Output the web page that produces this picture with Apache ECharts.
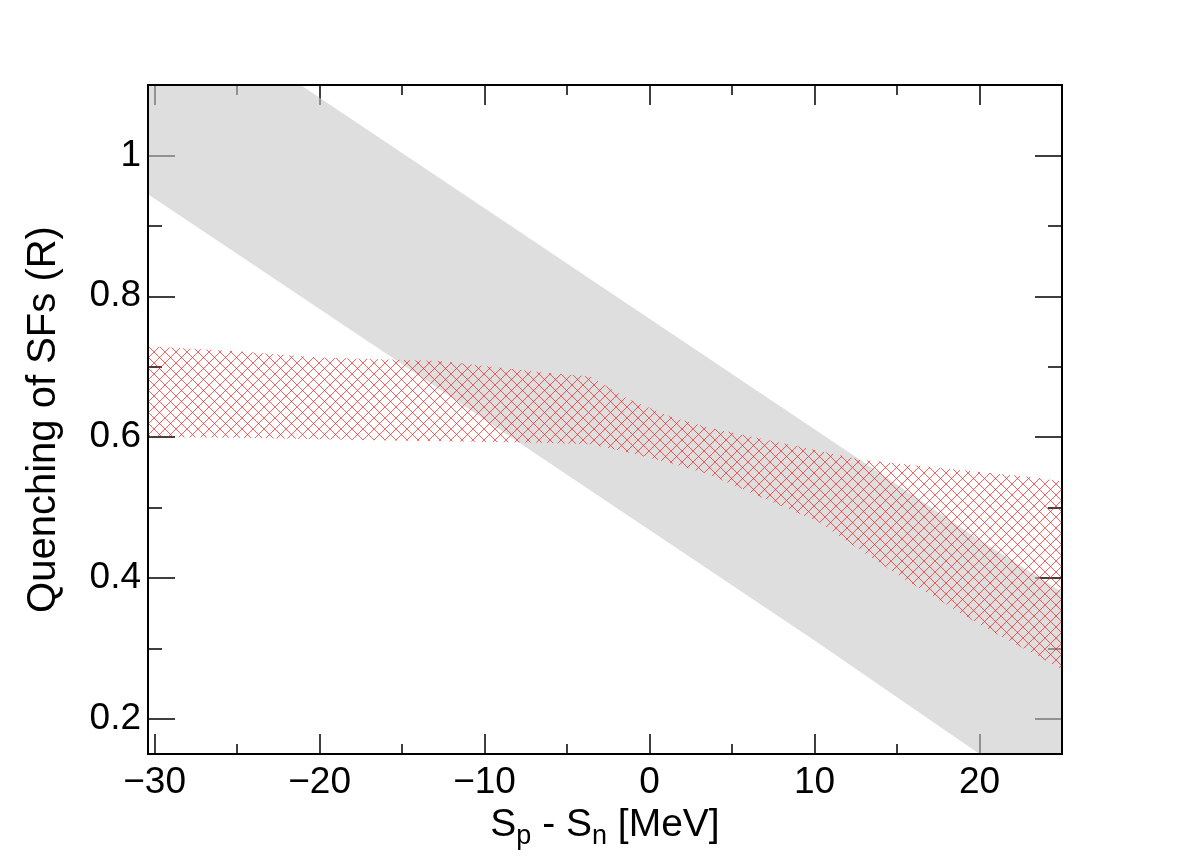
<!DOCTYPE html>
<html>
<head>
<meta charset="utf-8">
<script src="https://cdn.jsdelivr.net/npm/echarts@6/dist/echarts.min.js"></script>
<style>
  html, body { margin: 0; padding: 0; background: #fff; }
  #chart { width: 1182px; height: 863px; }
</style>
</head>
<body>
<div id="chart"></div>
<script>
// gray band (lower / upper edge)
var grayX = [-30.4, -20, -10, 0, 10, 20, 25]
var grayLow = [0.945, 0.782, 0.625, 0.468, 0.311, 0.150, 0.073]
var grayHigh = [1.245, 1.082, 0.925, 0.768, 0.611, 0.454, 0.380]

// red hatched band
var redX = [-30.4, -25, -20, -12.7, -6.6, -3.6, -1.3, 1.3, 3.5, 7.5, 10.2, 12.8, 15.2, 20.2, 23.3, 25]
var redLow = [0.600, 0.599, 0.597, 0.594, 0.592, 0.590, 0.578, 0.563, 0.548, 0.507, 0.480, 0.439, 0.402, 0.331, 0.292, 0.270]
var redHigh = [0.729, 0.722, 0.713, 0.708, 0.692, 0.686, 0.654, 0.629, 0.614, 0.594, 0.581, 0.568, 0.562, 0.550, 0.543, 0.537]

var xMajor = [-30, -20, -10, 0, 10, 20]
var xMinor = [-25, -15, -5, 5, 15]
var yMajor = [0.2, 0.4, 0.6, 0.8, 1]
var yMinor = [0.3, 0.5, 0.7, 0.9]

var FONT = "'Liberation Sans', Arial, Helvetica, sans-serif"

function hatchPattern() {
  var s = 11
  var c = document.createElement('canvas')
  c.width = s
  c.height = s
  var g = c.getContext('2d')
  g.strokeStyle = 'rgba(255,30,30,0.7)'
  g.lineWidth = 1
  g.beginPath()
  g.moveTo(-1, -1); g.lineTo(s + 1, s + 1)
  g.moveTo(s + 1, -1); g.lineTo(-1, s + 1)
  g.stroke()
  return c
}

// one filled polygon per band: upper edge left->right, lower edge right->left
function band(name, xs, lo, hi, fill) {
  return {
    name: name,
    type: 'custom',
    clip: true,
    silent: true,
    encode: { x: 0, y: [1, 2] },
    data: xs.map(function(x, i) { return [x, lo[i], hi[i]] }),
    renderItem: function(params, api) {
      if (params.dataIndex !== 0) return null
      var pts = []
      for (var i = 0; i < xs.length; i++) pts.push(api.coord([xs[i], hi[i]]))
      for (var j = xs.length - 1; j >= 0; j--) pts.push(api.coord([xs[j], lo[j]]))
      var cs = params.coordSys
      return {
        type: 'polygon',
        shape: { points: pts },
        style: { fill: fill, stroke: null },
        clipPath: { type: 'rect', shape: { x: cs.x, y: cs.y, width: cs.width, height: cs.height } }
      }
    }
  }
}

function fmtX(v) {
  return v < 0 ? '\u2212' + Math.abs(v) : String(v)
}

function xAx(pos, ticks, len, label) {
  var ax = {
    type: 'value',
    position: pos,
    min: -30.4,
    max: 25,
    axisLine: { show: false, onZero: false },
    splitLine: { show: false },
    axisTick: { show: true, inside: true, length: len, customValues: ticks, lineStyle: { color: '#000', width: 1.5 } },
    axisLabel: { show: false }
  }
  if (label) {
    ax.axisLabel = { show: true, customValues: xMajor, formatter: fmtX, margin: 10, fontSize: 37, color: '#000', fontFamily: FONT }
    ax.name = '{t|S}{s|p}{t| - S}{s|n}{t| [MeV]}'
    ax.nameLocation = 'middle'
    ax.nameGap = 47
    ax.nameTextStyle = {
      color: '#000',
      fontFamily: FONT,
      rich: {
        t: { fontSize: 39, fontFamily: FONT, color: '#000' },
        s: { fontSize: 27, fontFamily: FONT, color: '#000', padding: [22, 0, 0, 0] }
      }
    }
  }
  return ax
}

function yAx(pos, ticks, len, label) {
  var ax = {
    type: 'value',
    position: pos,
    min: 0.15,
    max: 1.1,
    axisLine: { show: false, onZero: false },
    splitLine: { show: false },
    axisTick: { show: true, inside: true, length: len, customValues: ticks, lineStyle: { color: '#000', width: 1.5 } },
    axisLabel: { show: false }
  }
  if (label) {
    ax.axisLabel = { show: true, customValues: yMajor, margin: 7, fontSize: 37, color: '#000', fontFamily: FONT }
    ax.name = 'Quenching of SFs (R)'
    ax.nameLocation = 'middle'
    ax.nameGap = 84
    ax.nameTextStyle = { fontSize: 40, color: '#000', fontFamily: FONT }
  }
  return ax
}

var chart = echarts.init(document.getElementById('chart'))
chart.setOption({
  backgroundColor: '#fff',
  animation: false,
  grid: {
    left: 148, right: 120, top: 85, bottom: 109,
    show: true, borderColor: '#000', borderWidth: 2,
    backgroundColor: 'transparent', z: 10
  },
  xAxis: [
    xAx('bottom', xMajor, 20, true),
    xAx('bottom', xMinor, 10, false),
    xAx('top', xMajor, 20, false),
    xAx('top', xMinor, 10, false)
  ],
  yAxis: [
    yAx('left', yMajor, 27, true),
    yAx('left', yMinor, 14, false),
    yAx('right', yMajor, 27, false),
    yAx('right', yMinor, 14, false)
  ],
  series: [
    band('gray', grayX, grayLow, grayHigh, 'rgba(200,200,200,0.6)'),
    band('red', redX, redLow, redHigh, { image: hatchPattern(), repeat: 'repeat' })
  ]
})
</script>
</body>
</html>
